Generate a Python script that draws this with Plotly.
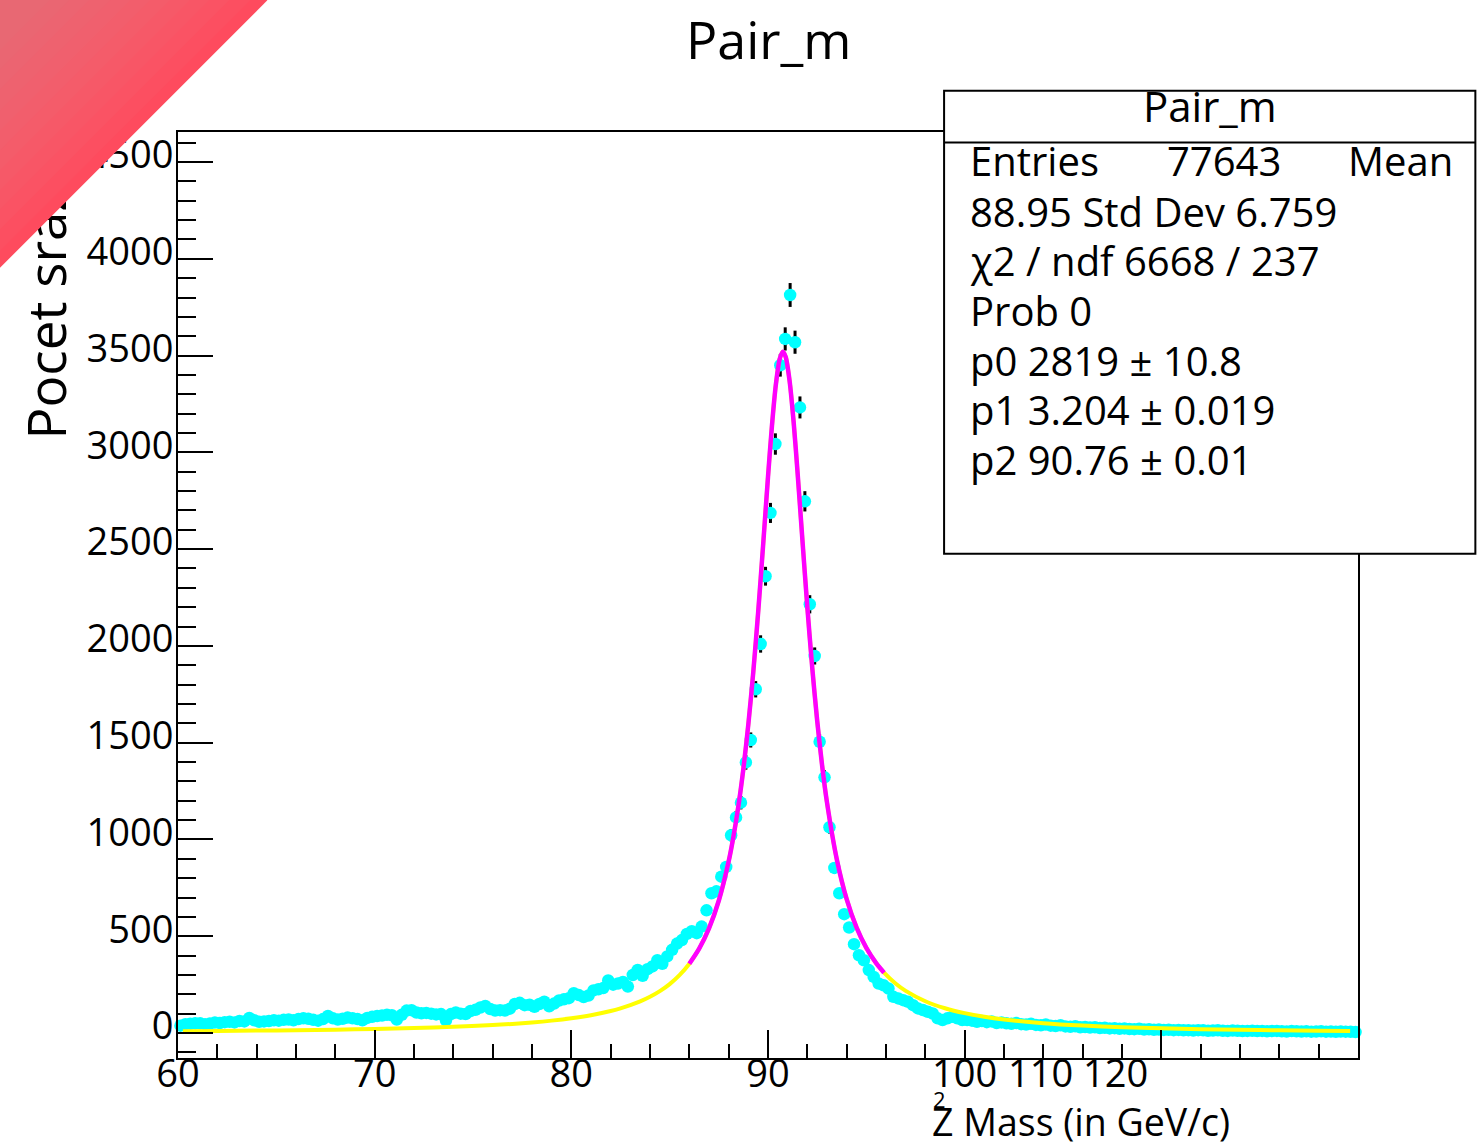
import plotly.graph_objects as go

# ---------------- data ----------------
bin_width = 0.25
n_bins = 240
bin_centers = [60.125 + bin_width * i for i in range(n_bins)]

counts = [
    # 60.125 - 64.875
    38, 46, 48, 50, 50, 46, 49, 54, 52, 56, 58, 55, 62, 60, 78, 66, 58, 60, 62, 66,
    # 65.125 - 69.875
    64, 68, 70, 66, 72, 76, 74, 68, 64, 72, 88, 76, 70, 74, 80, 76, 72, 66, 78, 84,
    # 70.125 - 74.875
    88, 90, 94, 92, 70, 94, 116, 118, 106, 102, 104, 100, 96, 98, 66, 98, 106, 100, 98, 114,
    # 75.125 - 79.875
    120, 132, 140, 124, 116, 118, 116, 126, 150, 156, 144, 146, 136, 150, 162, 138, 152, 168, 174, 180,
    # 80.125 - 84.875
    206, 196, 186, 194, 220, 226, 232, 272, 250, 256, 264, 240, 300, 326, 296, 330, 344, 376, 358, 396,
    # 85.125 - 89.875
    430, 462, 480, 512, 526, 516, 550, 634, 722, 732, 808, 858, 1022, 1114, 1190, 1398, 1514, 1776, 2010, 2360,
    # 90.125 - 94.875
    2687, 3043, 3450, 3586, 3813, 3569, 3232, 2747, 2215, 1948, 1505, 1321, 1063, 853, 722, 614, 545, 459, 402, 376,
    # 95.125 - 99.875
    325, 290, 256, 247, 230, 187, 179, 170, 161, 144, 127, 119, 110, 101, 76, 67, 76, 84, 76, 67,
    # 100.125 - 104.875
    67, 64, 58, 62, 56, 60, 52, 55, 50, 48, 52, 46, 44, 48, 42, 40, 44, 38, 36, 40,
    # 105.125 - 109.875
    34, 32, 35, 30, 31, 28, 30, 26, 27, 24, 25, 22, 24, 21, 20, 22, 18, 19, 17, 18,
    # 110.125 - 114.875
    16, 17, 15, 16, 14, 15, 13, 15, 14, 12, 13, 14, 12, 11, 13, 12, 10, 11, 12, 10,
    # 115.125 - 119.875
    11, 9, 10, 11, 9, 8, 10, 9, 8, 9, 7, 8, 9, 7, 8, 6, 8, 7, 6, 5,
]

# fit curve (full range, yellow)
fit_full_x = [60.25, 62, 64, 66, 68, 70, 72, 74, 76, 77, 78, 79, 80, 81, 82, 82.5, 83, 83.5,
              84, 84.5, 85, 85.5, 86, 86.5, 87, 87.5, 88, 88.25, 88.5, 88.75, 89, 89.25, 89.5,
              89.75, 90, 90.2, 90.4, 90.6, 90.76, 90.9, 91.1, 91.3, 91.5, 91.75, 92, 92.25,
              92.5, 92.75, 93, 93.5, 94, 94.5, 95, 95.5, 95.9, 96.5, 97, 98, 99, 100, 101, 102,
              104, 106, 108, 110, 112, 114, 116, 118, 119.6]
fit_full_y = [9.6, 10.9, 12.6, 14.7, 17.4, 20.8, 25.5, 31.9, 41.0, 47.1, 54.6, 64.1, 76.3, 92.3,
              113.9, 127.6, 143.9, 163.4, 187.2, 216.3, 252.7, 298.8, 358.1, 436.1, 540.8, 684.6,
              887.1, 1018.7, 1177.0, 1367.1, 1594.6, 1863.5, 2174.3, 2518.0, 2872.8, 3136.2,
              3350.2, 3484.6, 3519.9, 3492.7, 3367.7, 3160.3, 2900.5, 2546.4, 2200.8, 1886.8,
              1614.6, 1383.8, 1190.9, 896.9, 691.5, 545.7, 439.7, 360.8, 311.6, 254.3, 217.6,
              164.3, 128.2, 102.7, 84.1, 70.1, 50.8, 38.5, 30.1, 24.2, 19.9, 16.6, 14.1, 12.1, 10.8]

# fitted range (magenta)
fit_range_x = [86, 86.5, 87, 87.5, 88, 88.25, 88.5, 88.75, 89, 89.25, 89.5, 89.75, 90, 90.2,
               90.4, 90.6, 90.76, 90.9, 91.1, 91.3, 91.5, 91.75, 92, 92.25, 92.5, 92.75, 93,
               93.5, 94, 94.5, 95, 95.5, 95.9]
fit_range_y = [358.1, 436.1, 540.8, 684.6, 887.1, 1018.7, 1177.0, 1367.1, 1594.6, 1863.5, 2174.3,
               2518.0, 2872.8, 3136.2, 3350.2, 3484.6, 3519.9, 3492.7, 3367.7, 3160.3, 2900.5,
               2546.4, 2200.8, 1886.8, 1614.6, 1383.8, 1190.9, 896.9, 691.5, 545.7, 439.7,
               360.8, 311.6]

x_tick_vals = [60, 70, 80, 90, 100, 110, 120]
x_tick_text = ["60", "70", "80", "90", "100", "", ""]
y_tick_vals = [0, 500, 1000, 1500, 2000, 2500, 3000, 3500, 4000, 4500]

title_text = "Pair_m"
stats_lines = [
    "88.95 Std Dev 6.759",
    "\u03c72 / ndf 6668 / 237",
    "Prob 0",
    "p0 2819 \u00b1 10.8",
    "p1 3.204 \u00b1 0.019",
    "p2 90.76 \u00b1 0.01",
]

# ---------------- layout geometry ----------------
W, H = 1479, 1146
L, R, T, B = 178.3, 1357.7, 131.7, 1057.7
FONT = "Open Sans"


def px(xp):
    return (xp - L) / (R - L)


def py(yp):
    return (B - yp) / (B - T)


fig = go.Figure()

fig.add_trace(go.Scatter(
    x=bin_centers, y=counts, mode="markers",
    marker=dict(color="#00FFFF", size=12.5, line=dict(width=0)),
    error_y=dict(type="sqrt", color="black", thickness=3, width=0),
    cliponaxis=False, showlegend=False,
))
fig.add_trace(go.Scatter(
    x=fit_full_x, y=fit_full_y, mode="lines",
    line=dict(color="#FFFF00", width=4, shape="spline", smoothing=0.8),
    showlegend=False,
))
fig.add_trace(go.Scatter(
    x=fit_range_x, y=fit_range_y, mode="lines",
    line=dict(color="#FF00FF", width=4.5, shape="spline", smoothing=0.8),
    showlegend=False,
))

axis_common = dict(
    showline=True, linewidth=2, linecolor="black", mirror=True,
    showgrid=False, zeroline=False, ticks="inside", tickwidth=2, tickcolor="black",
    tickfont=dict(family=FONT, size=38, color="black"),
)

fig.update_xaxes(
    range=[60, 120], tickmode="array", tickvals=x_tick_vals, ticktext=x_tick_text,
    ticklen=28, ticklabelstandoff=-19,
    minor=dict(dtick=2, tick0=60, ticks="inside", ticklen=14, tickwidth=2, tickcolor="black"),
    **axis_common,
)
fig.update_yaxes(
    range=[-129, 4655], tickmode="array", tickvals=y_tick_vals,
    ticklen=35, ticklabelshift=-7, ticklabelstandoff=-5,
    minor=dict(dtick=100, tick0=0, ticks="inside", ticklen=18, tickwidth=2, tickcolor="black"),
    **axis_common,
)

shapes = [
    # statistics box
    dict(type="rect", xref="paper", yref="paper", x0=px(944), x1=px(1475), y0=py(553.5), y1=py(90.5),
         line=dict(color="black", width=2), fillcolor="white", layer="above"),
    dict(type="line", xref="paper", yref="paper", x0=px(944), x1=px(1475), y0=py(142.3), y1=py(142.3),
         line=dict(color="black", width=2), layer="above"),
]

annotations = []


def txt(text, x, y, size, xanchor="left", yanchor="middle", angle=0):
    annotations.append(dict(
        text=text, xref="paper", yref="paper", x=px(x), y=py(y), xanchor=xanchor, yanchor=yanchor,
        showarrow=False, textangle=angle, font=dict(family=FONT, size=size, color="black"),
    ))


# main title
txt(title_text, 768, 38, 52, xanchor="center")
# stats box texts
txt(title_text, 1210, 105, 42, xanchor="center")
txt("Entries", 968, 160, 40)
txt("77643", 1165, 160, 40)
txt("Mean", 1346, 160, 40)
for i, line in enumerate(stats_lines):
    txt(line, 968, 211 + 49.6 * i, 40)
# extra x tick labels (crowded as in the original)
txt("110 120", 1006, 1072, 38)
# x axis title
txt("Z Mass (in GeV/c)", 930, 1121, 37.5)
txt("2", 939, 1099, 22, xanchor="center")
# y axis title
txt("Pocet srazek", 46, 441, 53, xanchor="center", yanchor="bottom", angle=-90)

# red corner triangle (rotated squares centred on the page corner, soft gradient)
corner_bands = [(268, "#FE4B5E"), (250, "#FC4F61"), (230, "#FA5364"), (210, "#F85666"),
                (190, "#F65968"), (170, "#F45C6A"), (150, "#F25E6C"), (130, "#F0606E"),
                (110, "#EE626F"), (90, "#EC6471"), (70, "#EA6672"), (50, "#E86873")]
for d, col in corner_bands:
    side = d * 2 ** 0.5
    annotations.append(dict(
        text=" ", xref="paper", yref="paper", x=px(0), y=py(0), xanchor="center", yanchor="middle",
        showarrow=False, textangle=45, width=side, height=side, bgcolor=col,
        borderpad=0, borderwidth=0, font=dict(size=4),
    ))

fig.update_layout(
    width=W, height=H, autosize=False,
    margin=dict(l=L, r=W - R, t=T, b=H - B, pad=0),
    paper_bgcolor="white", plot_bgcolor="white",
    shapes=shapes, annotations=annotations, showlegend=False,
    font=dict(family=FONT, color="black"),
)

fig.write_html("out.html")
